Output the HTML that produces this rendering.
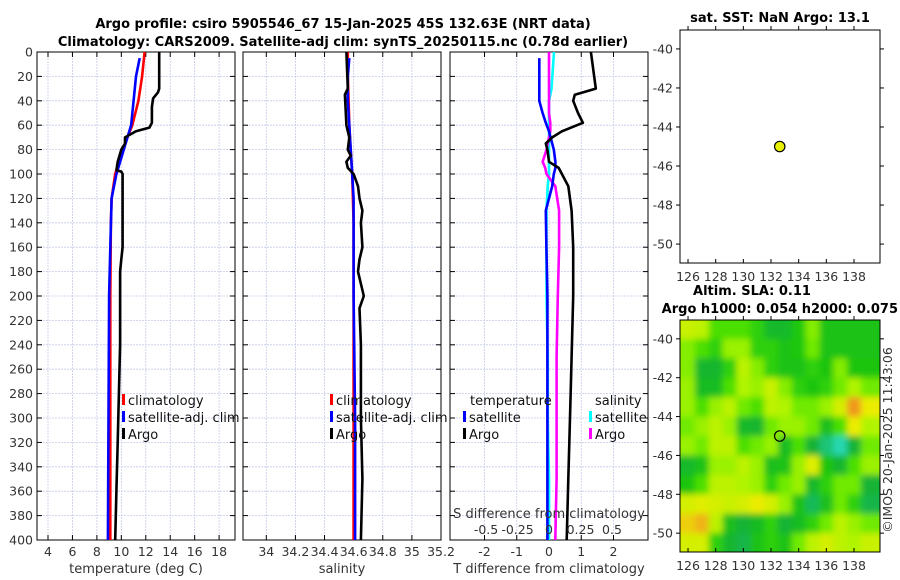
<!DOCTYPE html>
<html><head><meta charset="utf-8">
<style>
html,body{margin:0;padding:0;background:#fff;}
svg{display:block;font-family:"DejaVu Sans","Liberation Sans",sans-serif;}
.tk{font-size:12.5px;fill:#333;}
.tt{font-size:13px;font-weight:bold;fill:#000;}
.lg{font-size:13px;fill:#111;}
</style></head>
<body>
<svg id="chart" width="900" height="580" viewBox="0 0 900 580">
<defs>
<clipPath id="mapclip"><rect x="680" y="320" width="200" height="232"/></clipPath>
<filter id="blur" x="-5%" y="-5%" width="110%" height="110%"><feGaussianBlur stdDeviation="3.2"/></filter>
<clipPath id="c1"><rect x="37" y="52" width="198" height="488"/></clipPath>
<clipPath id="c2"><rect x="243" y="52" width="198" height="488"/></clipPath>
<clipPath id="c3"><rect x="450" y="52" width="198" height="488"/></clipPath>
</defs>
<text class="tt" x="343" y="28" text-anchor="middle">Argo profile: csiro 5905546_67 15-Jan-2025 45S 132.63E (NRT data)</text>
<text class="tt" x="343" y="46" text-anchor="middle">Climatology: CARS2009. Satellite-adj clim: synTS_20250115.nc (0.78d earlier)</text>
<text class="tt" x="780" y="22" text-anchor="middle">sat. SST: NaN Argo: 13.1</text>
<text class="tt" x="752" y="295" text-anchor="middle">Altim. SLA: 0.11</text>
<text class="tt" x="898" y="313" text-anchor="end">Argo h1000: 0.054 h2000: 0.075</text>
<text class="tk" transform="translate(892,440) rotate(-90)" text-anchor="middle">©IMOS 20-Jan-2025 11:43:06</text>
<g id="layer"></g>
</svg>
<script>
// ---- data ----
const tempTicks=[4,6,8,10,12,14,16,18];
const salTicks=[34,34.2,34.4,34.6,34.8,35,35.2];
const tdTicks=[-2,-1,0,1,2];
const sdTicks=[-0.5,-0.25,0,0.25,0.5];
const depthTicks=[0,20,40,60,80,100,120,140,160,180,200,220,240,260,280,300,320,340,360,380,400];
const argoDepth=[0,30,33,38,45,58,62,65,70,75,80,90,97,98,100,120,140,160,170,180,200,220,240,280,320,360,400];
const argoTemp=[13.1,13.1,13.0,12.6,12.5,12.5,12.3,11.2,10.3,10.3,10.0,9.7,9.6,10.0,10.1,10.1,10.1,10.1,10.0,9.9,9.9,9.9,9.9,9.8,9.7,9.6,9.5];
const climDepth=[0,20,40,60,80,100,120,140,200,300,400];
const climTemp=[11.9,11.7,11.4,10.9,10.1,9.5,9.2,9.15,9.1,9.1,9.1];
const satDepth=[5,20,40,60,80,100,120,160,200,300,400];
const satTemp=[11.5,11.2,11.0,10.8,10.2,9.6,9.2,9.1,9.0,8.95,8.9];
const argoSDepth=[0,30,35,60,70,80,85,90,95,100,110,120,130,140,160,170,180,190,200,210,240,300,350,400];
const argoSal=[34.55,34.56,34.54,34.55,34.57,34.56,34.58,34.55,34.56,34.60,34.63,34.64,34.66,34.65,34.66,34.64,34.63,34.65,34.67,34.64,34.65,34.65,34.66,34.65];
const climSal=[34.56,34.56,34.565,34.57,34.58,34.59,34.595,34.6,34.6,34.6,34.6];
const satSal=[34.57,34.56,34.56,34.57,34.58,34.59,34.6,34.6,34.6,34.61,34.61];
const diffDepth=[0,30,35,40,50,58,65,70,75,80,90,95,100,110,130,160,200,250,300,350,400];
const argoTDiff=[1.3,1.45,0.8,0.75,0.9,1.05,0.4,0.1,-0.1,-0.05,0.0,0.3,0.4,0.6,0.7,0.75,0.75,0.7,0.65,0.6,0.55];
const satTDiff=[-0.3,-0.3,-0.3,-0.3,-0.2,-0.1,0.0,0.05,0.1,0.15,0.2,0.2,0.15,0.1,-0.1,-0.08,-0.05,-0.05,-0.05,-0.05,-0.05];
const argoSDiff=[0.0,0.0,0.0,0.0,0.0,0.01,0.01,0.0,-0.01,-0.02,-0.05,-0.03,-0.02,0.05,0.08,0.08,0.07,0.06,0.06,0.06,0.05];
const satSDiff=[0.04,0.02,0.01,0.0,0.0,0.0,0.0,0.0,0.0,0.0,0.0,0.0,0.0,-0.01,-0.02,-0.02,-0.02,-0.01,-0.01,0.0,0.0];
const lonTicks=[126,128,130,132,134,136,138];
const latTicks=[-40,-42,-44,-46,-48,-50];
const argoLon=132.63, argoLat=-45.0;
const gridLon=[126,127,128,129,130,131,132,133,134,135,136,137,138,139];
const gridLat=[-39.5,-40.5,-41.5,-42.5,-43.5,-44.5,-45.5,-46.5,-47.5,-48.5,-49.5,-50.5];
const slaGrid=[
[2.7,2.6,2.0,2.0,2.0,1.8,1.2,1.2,1.7,2.3,1.5,1.5,1.5,1.5],
[2.3,2.0,1.8,2.4,2.4,1.8,1.8,1.5,1.7,2.2,1.5,1.5,1.5,1.5],
[2.3,1.1,1.1,1.8,2.6,2.3,1.8,1.5,1.5,1.8,1.6,2.3,1.6,1.6],
[2.4,1.3,1.3,2.0,2.5,2.4,2.7,2.3,1.8,1.6,1.8,2.2,2.5,2.2],
[2.4,2.0,2.4,2.6,2.2,2.0,2.6,2.5,2.2,2.2,2.4,2.8,3.6,3.0],
[2.2,2.4,2.6,2.4,1.2,1.1,2.2,2.4,2.4,2.2,1.4,2.0,3.0,2.5],
[2.4,2.2,2.6,2.6,2.0,2.2,2.4,1.3,2.0,1.0,0.5,0.1,1.0,2.2],
[1.2,1.5,2.4,2.4,2.6,2.4,1.4,1.5,2.4,2.9,1.6,1.1,2.0,2.4],
[1.6,2.0,2.6,2.6,2.5,2.4,1.8,2.2,2.4,1.2,1.8,2.2,2.2,1.0],
[2.8,2.9,2.8,2.7,2.8,3.0,2.8,2.4,1.5,0.7,1.4,2.2,1.8,0.8],
[3.2,3.4,2.6,1.4,1.0,1.3,1.8,1.0,1.3,1.8,2.2,2.6,2.4,2.2],
[2.8,2.8,1.8,1.1,0.8,1.5,1.8,1.5,2.2,2.6,2.8,2.6,2.5,2.7]];

// ---- helpers ----
const NS='http://www.w3.org/2000/svg';
const layer=document.getElementById('layer');
function mk(tag,attrs,parent){const e=document.createElementNS(NS,tag);for(const k in attrs)e.setAttribute(k,attrs[k]);(parent||layer).appendChild(e);return e;}
const top0=52,bot0=540;
const yD=d=>top0+d*(bot0-top0)/400;
function lin(d0,d1,r0,r1){return v=>r0+(v-d0)*(r1-r0)/(d1-d0);}
const panels=[
 {x0:37,x1:235,dom:[3.1,19.3],ticks:tempTicks,label:'temperature (deg C)',name:'temperature',clip:'c1'},
 {x0:243,x1:441,dom:[33.84,35.2],ticks:salTicks,label:'salinity',name:'salinity',clip:'c2'},
 {x0:450,x1:648,dom:[-3.07,3.07],ticks:tdTicks,label:'T difference from climatology',name:'difference',clip:'c3'}];
panels.forEach((p,pi)=>{
 p.sx=lin(p.dom[0],p.dom[1],p.x0,p.x1);
 const g=mk('g',{});
 
 
 depthTicks.forEach(d=>{const l=mk('line',{x1:p.x0,x2:p.x1,y1:yD(d),y2:yD(d),stroke:'#c5cbe8','stroke-width':0.8,'stroke-dasharray':'2,1'},g);
  
  mk('line',{x1:p.x0,x2:p.x0+5,y1:yD(d),y2:yD(d),stroke:'#000'},g);mk('line',{x1:p.x1-5,x2:p.x1,y1:yD(d),y2:yD(d),stroke:'#000'},g);
  if(pi===0){const t=mk('text',{x:p.x0-4,y:yD(d)+4.5,'text-anchor':'end',class:'tk'},g);t.textContent=d;
   }});
 p.ticks.forEach(v=>{const x=p.sx(v);
  const l=mk('line',{x1:x,x2:x,y1:top0,y2:bot0,stroke:'#c5cbe8','stroke-width':0.8,'stroke-dasharray':'2,1'},g);
  
  mk('line',{x1:x,x2:x,y1:bot0-5,y2:bot0,stroke:'#000'},g);mk('line',{x1:x,x2:x,y1:top0,y2:top0+5,stroke:'#000'},g);
  const t=mk('text',{x:x,y:556,'text-anchor':'middle',class:'tk'},g);t.textContent=v;
  });
 const lb=mk('text',{x:(p.x0+p.x1)/2,y:573,'text-anchor':'middle',class:'tk',style:'font-size:13px'},g);lb.textContent=p.label;
 
 const b=mk('rect',{x:p.x0,y:top0,width:p.x1-p.x0,height:bot0-top0,fill:'none',stroke:'#000','stroke-width':1},g);
 
});
function line(sx,depths,vals,color,name,clip,w){
 const pts=depths.map((d,i)=>sx(vals[i]).toFixed(1)+','+yD(d).toFixed(1)).join(' ');
 const l=mk('polyline',{points:pts,fill:'none',stroke:color,'stroke-width':w||2.6,'stroke-linejoin':'round','clip-path':'url(#'+clip+')'});
 
 
}
const P=panels;
line(P[0].sx,climDepth,climTemp,'#f00','climatology-temp-line','c1');
line(P[0].sx,satDepth,satTemp,'#00f','satellite-adj-temp-line','c1');
line(P[0].sx,argoDepth,argoTemp,'#000','argo-temp-line','c1');
line(P[1].sx,climDepth,climSal,'#f00','climatology-sal-line','c2');
line(P[1].sx,climDepth.map((d,i)=>i?d:5),satSal,'#00f','satellite-adj-sal-line','c2');
line(P[1].sx,argoSDepth,argoSal,'#000','argo-sal-line','c2');
const sdx=lin(-0.786,0.786,450,648);
line(sdx,diffDepth,satSDiff,'#0ff','sal-diff-satellite-line','c3');
line(sdx,diffDepth,argoSDiff,'#f0f','sal-diff-argo-line','c3');
line(P[2].sx,diffDepth.map((d,i)=>i?d:5),satTDiff,'#00f','temp-diff-satellite-line','c3');
line(P[2].sx,diffDepth,argoTDiff,'#000','temp-diff-argo-line','c3');
const sl=mk('text',{x:549,y:518,'text-anchor':'middle',class:'tk',style:'font-size:13px'});sl.textContent='S difference from climatology';

sdTicks.forEach(v=>{const t=mk('text',{x:sdx(v),y:534,'text-anchor':'middle',class:'tk'});t.textContent=String(v);
 });
function legend(x,y,color,label,name){
 const g=mk('g',{});
 mk('rect',{x:x,y:y-11,width:3,height:11,fill:color},g);
 const t=mk('text',{x:x+6,y:y,class:'lg'},g);t.textContent=label;}
legend(122,405,'#f00','climatology','legend-climatology-temp');
legend(122,422,'#00f','satellite-adj. clim','legend-satellite-temp');
legend(122,439,'#000','Argo','legend-argo-temp');
legend(330,405,'#f00','climatology','legend-climatology-sal');
legend(330,422,'#00f','satellite-adj. clim','legend-satellite-sal');
legend(330,439,'#000','Argo','legend-argo-sal');
const th=mk('text',{x:470,y:405,class:'lg'});th.textContent='temperature';
legend(463,422,'#00f','satellite','legend-temp-diff-satellite');
legend(463,439,'#000','Argo','legend-temp-diff-argo');
const sh=mk('text',{x:595,y:405,class:'lg'});sh.textContent='salinity';
legend(589,422,'#0ff','satellite','legend-sal-diff-satellite');
legend(589,439,'#f0f','Argo','legend-sal-diff-argo');
const lonMin=125.42,lonMax=139.88,latMax=-39.03,latMin=-50.97;
function map(y0,y1,name,withHeat){
 const mx=lin(lonMin,lonMax,680,880),my=lin(latMax,latMin,y0,y1);
 const g=mk('g',{});
 if(withHeat){
  const stops=[[0,[40,220,190]],[0.9,[20,176,60]],[1.7,[30,200,10]],[2.1,[90,230,0]],[2.5,[176,244,0]],[3.0,[236,236,0]],[3.6,[240,150,30]]];
  function col(v){for(let i=1;i<stops.length;i++){if(v<=stops[i][0]||i===stops.length-1){const a=stops[i-1],b=stops[i];let f=(v-a[0])/(b[0]-a[0]);f=Math.max(0,Math.min(1,f));return 'rgb('+a[1].map((c,k)=>Math.round(c+(b[1][k]-c)*f)).join(',')+')';}}}
  const hg=mk('g',{'clip-path':'url(#mapclip)'},g);
  const bg=mk('g',{filter:'url(#blur)'},hg);
  gridLat.forEach((la,r)=>gridLon.forEach((lo,c)=>{
   const xa=mx(lo-0.5-(c===0?1:0)),xb=mx(lo+0.5+(c===gridLon.length-1?1:0));
   const ya=my(la+0.5+(r===0?1:0)),yb=my(la-0.5-(r===gridLat.length-1?1:0));
   const cell=mk('rect',{x:xa,y:ya,width:xb-xa+0.5,height:yb-ya+0.5,fill:col(slaGrid[r][c])},bg);
   
   
  }));
 }
 mk('rect',{x:680,y:y0,width:200,height:y1-y0,fill:'none',stroke:'#000'},g);
 lonTicks.forEach(v=>{const x=mx(v);mk('line',{x1:x,x2:x,y1:y1-4,y2:y1,stroke:'#000'},g);mk('line',{x1:x,x2:x,y1:y0,y2:y0-4,stroke:'#000'},g);
  const t=mk('text',{x:x,y:y1+18,'text-anchor':'middle',class:'tk'},g);t.textContent=v;
  });
 latTicks.forEach(v=>{const y=my(v);mk('line',{x1:676,x2:680,y1:y,y2:y,stroke:'#000'},g);mk('line',{x1:880,x2:884,y1:y,y2:y,stroke:'#000'},g);
  const t=mk('text',{x:673,y:y+4.5,'text-anchor':'end',class:'tk'},g);t.textContent=v;
  });
 const dot=mk('circle',{cx:mx(argoLon),cy:my(argoLat),r:5.2,fill:withHeat?'none':'#e6f000',stroke:'#000','stroke-width':1.2},g);
 
 
}
map(30,263,'sst-map',false);
map(320,552,'sla-map',true);
</script>
</body></html>
